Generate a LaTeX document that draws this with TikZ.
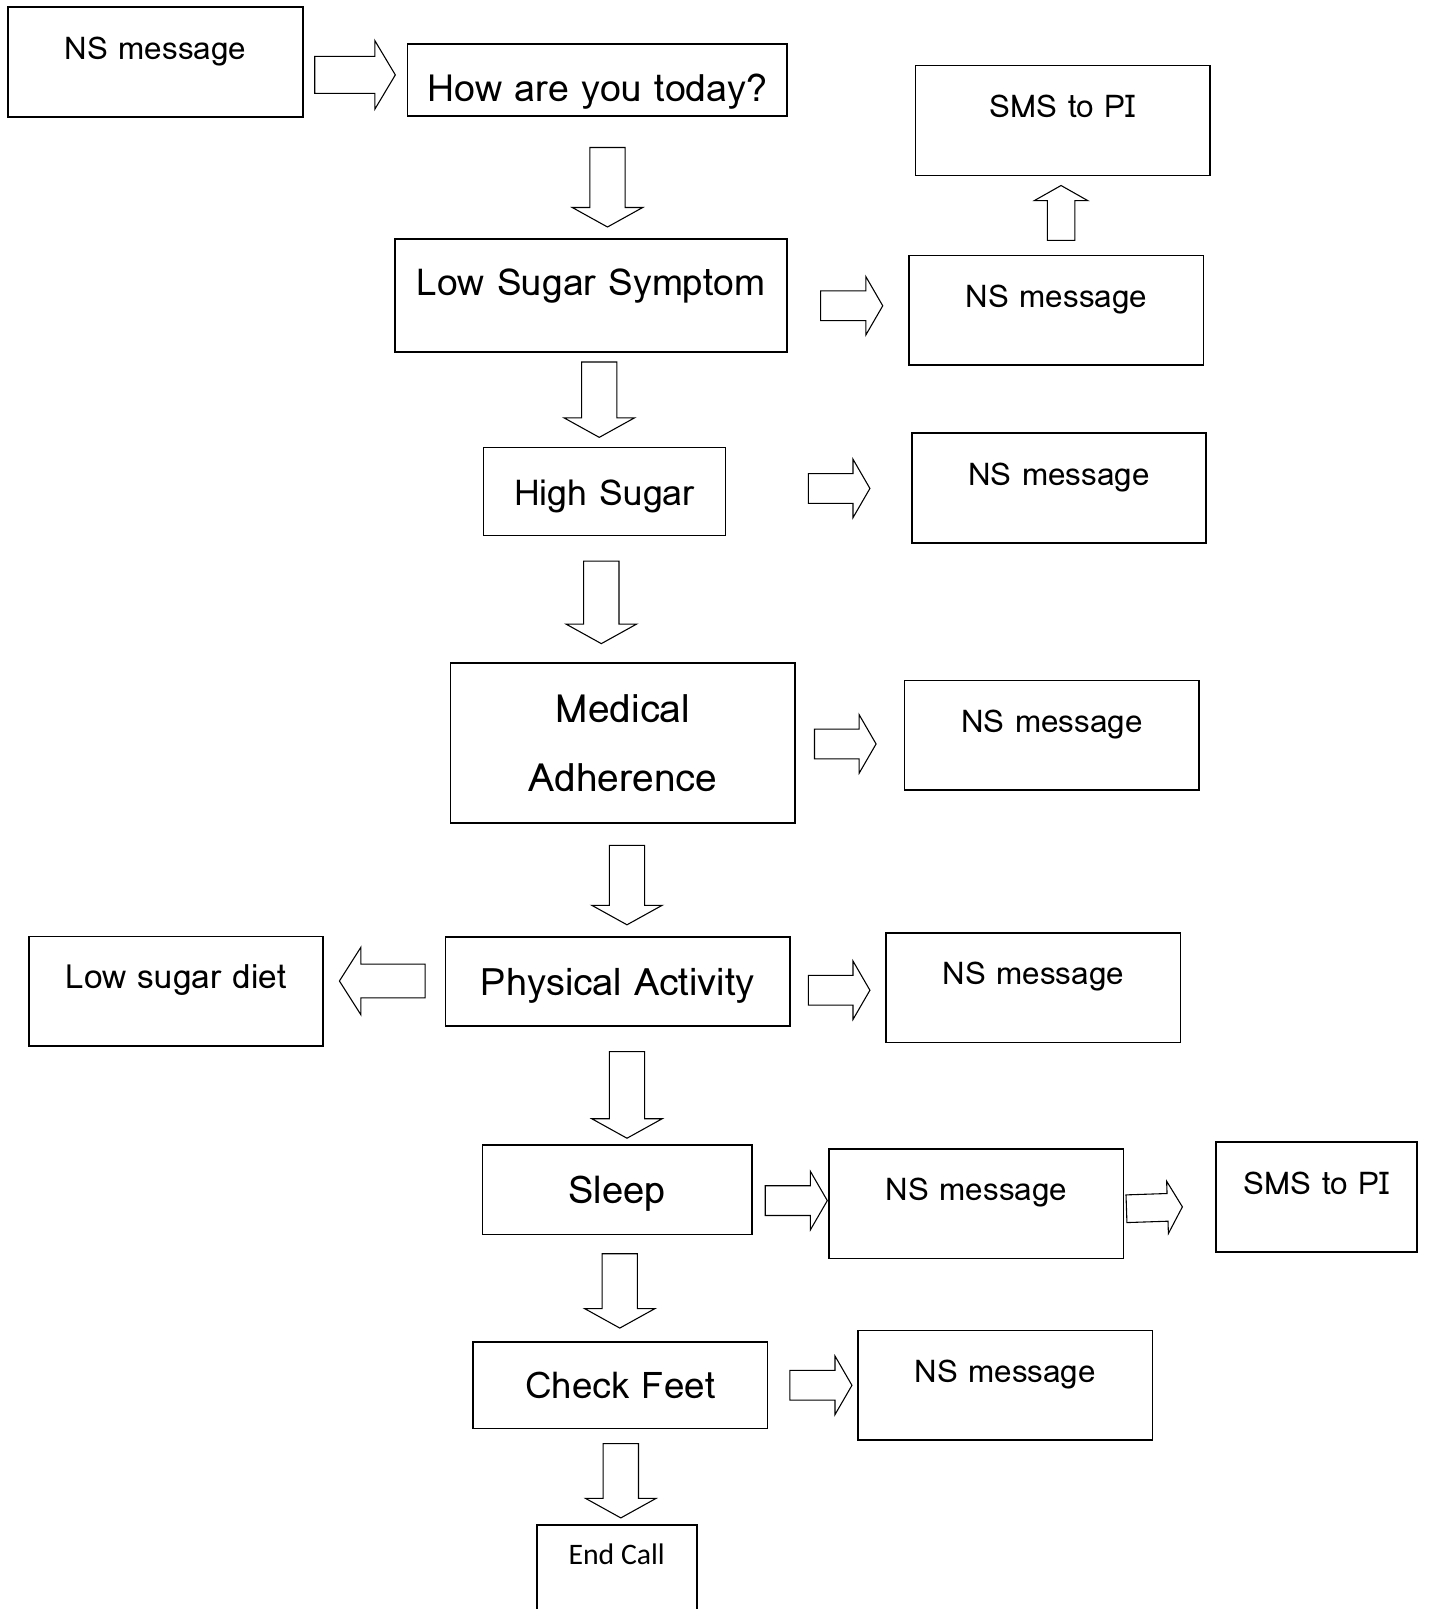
\documentclass[tikz,border=0pt]{standalone}
\usepackage{fontspec}
\setmainfont{Loma}
\newfontfamily\calfont{Carlito}
\usetikzlibrary{calc}

\def\pxu{0.56905pt}

\tikzset{
  box/.style={draw, rectangle, inner sep=0pt, line width=0.9pt},
  msg/.style={box, minimum width=5.74cm, minimum height=2.14cm,
    font=\fontsize{17.4}{20}\selectfont, text height=10pt, text depth=13pt},
  qbox/.style={box, font=\fontsize{20.8}{25}\selectfont,
    text height=15.5pt, text depth=0.5pt},
  shaft/.store in=\fw, head/.store in=\fW, headlen/.store in=\fh,
  hfat/.style={shaft=14.5, head=28.5, headlen=16.5},
  vfat/.style={shaft=17.2, head=34.3, headlen=19},
  fat/.style 2 args={draw, line width=0.6pt, to path={
    let \p1=(\tikztostart), \p2=(\tikztotarget),
        \n1={atan2((\y2)-(\y1),(\x2)-(\x1))},
        \n2={veclen((\x2)-(\x1),(\y2)-(\y1))},
        \n3={#1*\pxu}, \n4={\n2-#2*\pxu}, \n5={\n4-\fh*\pxu},
        \n6={\fw*\pxu}, \n7={\fW*\pxu} in
    ([shift={(\p1)},rotate=\n1]\n3,\n6) -- ([shift={(\p1)},rotate=\n1]\n5,\n6)
    -- ([shift={(\p1)},rotate=\n1]\n5,\n7) -- ([shift={(\p1)},rotate=\n1]\n4,0pt)
    -- ([shift={(\p1)},rotate=\n1]\n5,-\n7) -- ([shift={(\p1)},rotate=\n1]\n5,-\n6)
    -- ([shift={(\p1)},rotate=\n1]\n3,-\n6) -- cycle
  }},
}

\begin{document}
\begin{tikzpicture}[x=0.02cm, y=-0.02cm]
\useasboundingbox (0,0) rectangle (1392,1568);
\clip (0,0) rectangle (1392,1568);
\fill[white] (0,0) rectangle (1392,1568);

% boxes
\node[msg] (ns1) at (151.5,60.5) {NS message};
\node[qbox, minimum width=7.4cm, minimum height=1.4cm, text height=24pt] (how) at (582,78) {How are you today?};
\node[msg] (sms1) at (1035.5,117.5) {SMS to PI};
\node[qbox, minimum width=7.64cm, minimum height=2.2cm, text height=14pt, text depth=14.3pt,
  font=\fontsize{20.6}{25}\selectfont] (lowsym) at (576,288) {Low Sugar Symptom};
\node[msg] (ns2) at (1029.5,302.5) {NS message};
\node[qbox, minimum width=4.72cm, minimum height=1.72cm, font=\fontsize{19.8}{24}\selectfont] (high) at (589,479) {High Sugar};
\node[msg] (ns3) at (1032,475.5) {NS message};
\node[box, minimum width=6.72cm, minimum height=3.12cm, align=center,
  font=\fontsize{21.6}{38}\selectfont] (med) at (607,724) {Medical\\Adherence};
\node[msg] (ns4) at (1025,716.5) {NS message};
\node[qbox, minimum width=6.72cm, minimum height=1.74cm, font=\fontsize{21}{25}\selectfont] (phys) at (602,956.5) {Physical Activity};
\node[msg, font=\fontsize{18.5}{22}\selectfont] (diet) at (171.5,966) {Low sugar diet};
\node[msg] (ns5) at (1007,962.5) {NS message};
\node[qbox, minimum width=5.26cm, minimum height=1.74cm, font=\fontsize{21.2}{25}\selectfont] (sleep) at (601.5,1159.5) {Sleep};
\node[msg] (ns6) at (951.5,1173) {NS message};
\node[msg, minimum width=3.92cm] (sms2) at (1283,1166.5) {SMS to PI};
\node[qbox, minimum width=5.74cm, minimum height=1.68cm, font=\fontsize{20.4}{25}\selectfont] (check) at (604.5,1350) {Check Feet};
\node[msg] (ns7) at (979.5,1350) {NS message};
\node[box, minimum width=3.12cm, minimum height=2.28cm, font=\calfont\fontsize{16.5}{19}\selectfont,
  text height=10pt, text depth=30.4pt] (end) at (601,1543) {End Call};

% block arrows
\draw[fat={11}{11}, shaft=18, head=33.5, headlen=20] (ns1.east |- 0,73) to (how.west |- 0,73);
\draw[fat={30}{11}, vfat] (how.south -| 592,0) to (lowsym.north -| 592,0);
\draw[fat={14}{9}, shaft=13.4, head=26, headlen=14.7] (ns2.north -| 1034,0) to (sms1.south -| 1034,0);
\draw[fat={32}{25}, hfat] (lowsym.east |- 0,298) to (ns2.west |- 0,298);
\draw[fat={9}{9}, vfat] (lowsym.south -| 584,0) to (high.north -| 584,0);
\draw[fat={80}{40}, hfat] (high.east |- 0,476) to (ns3.west |- 0,476);
\draw[fat={24}{18}, vfat] (high.south -| 586,0) to (med.north -| 586,0);
\draw[fat={18}{27}, hfat] (med.east |- 0,725) to (ns4.west |- 0,725);
\draw[fat={21}{11}, vfat] (med.south -| 611,0) to (phys.north -| 611,0);
\draw[fat={19}{15}, shaft=16.5, head=33, headlen=21] (phys.west |- 0,956) to (diet.east |- 0,956);
\draw[fat={17}{15}, hfat] (phys.east |- 0,965) to (ns5.west |- 0,965);
\draw[fat={24}{6}, vfat] (phys.south -| 611,0) to (sleep.north -| 611,0);
\draw[fat={12}{1}, hfat] (sleep.east |- 0,1170) to (ns6.west |- 0,1170);
\draw[fat={2}{32}, shaft=13.5, head=25.5, headlen=14.5] (ns6.east |- 0,1178) to (sms2.west |- 0,1175);
\draw[fat={18}{13}, vfat] (sleep.south -| 604,0) to (check.north -| 604,0);
\draw[fat={21}{5}, hfat] (check.east |- 0,1350) to (ns7.west |- 0,1350);
\draw[fat={14}{6}, vfat] (check.south -| 605,0) to (end.north -| 605,0);
\end{tikzpicture}
\end{document}
